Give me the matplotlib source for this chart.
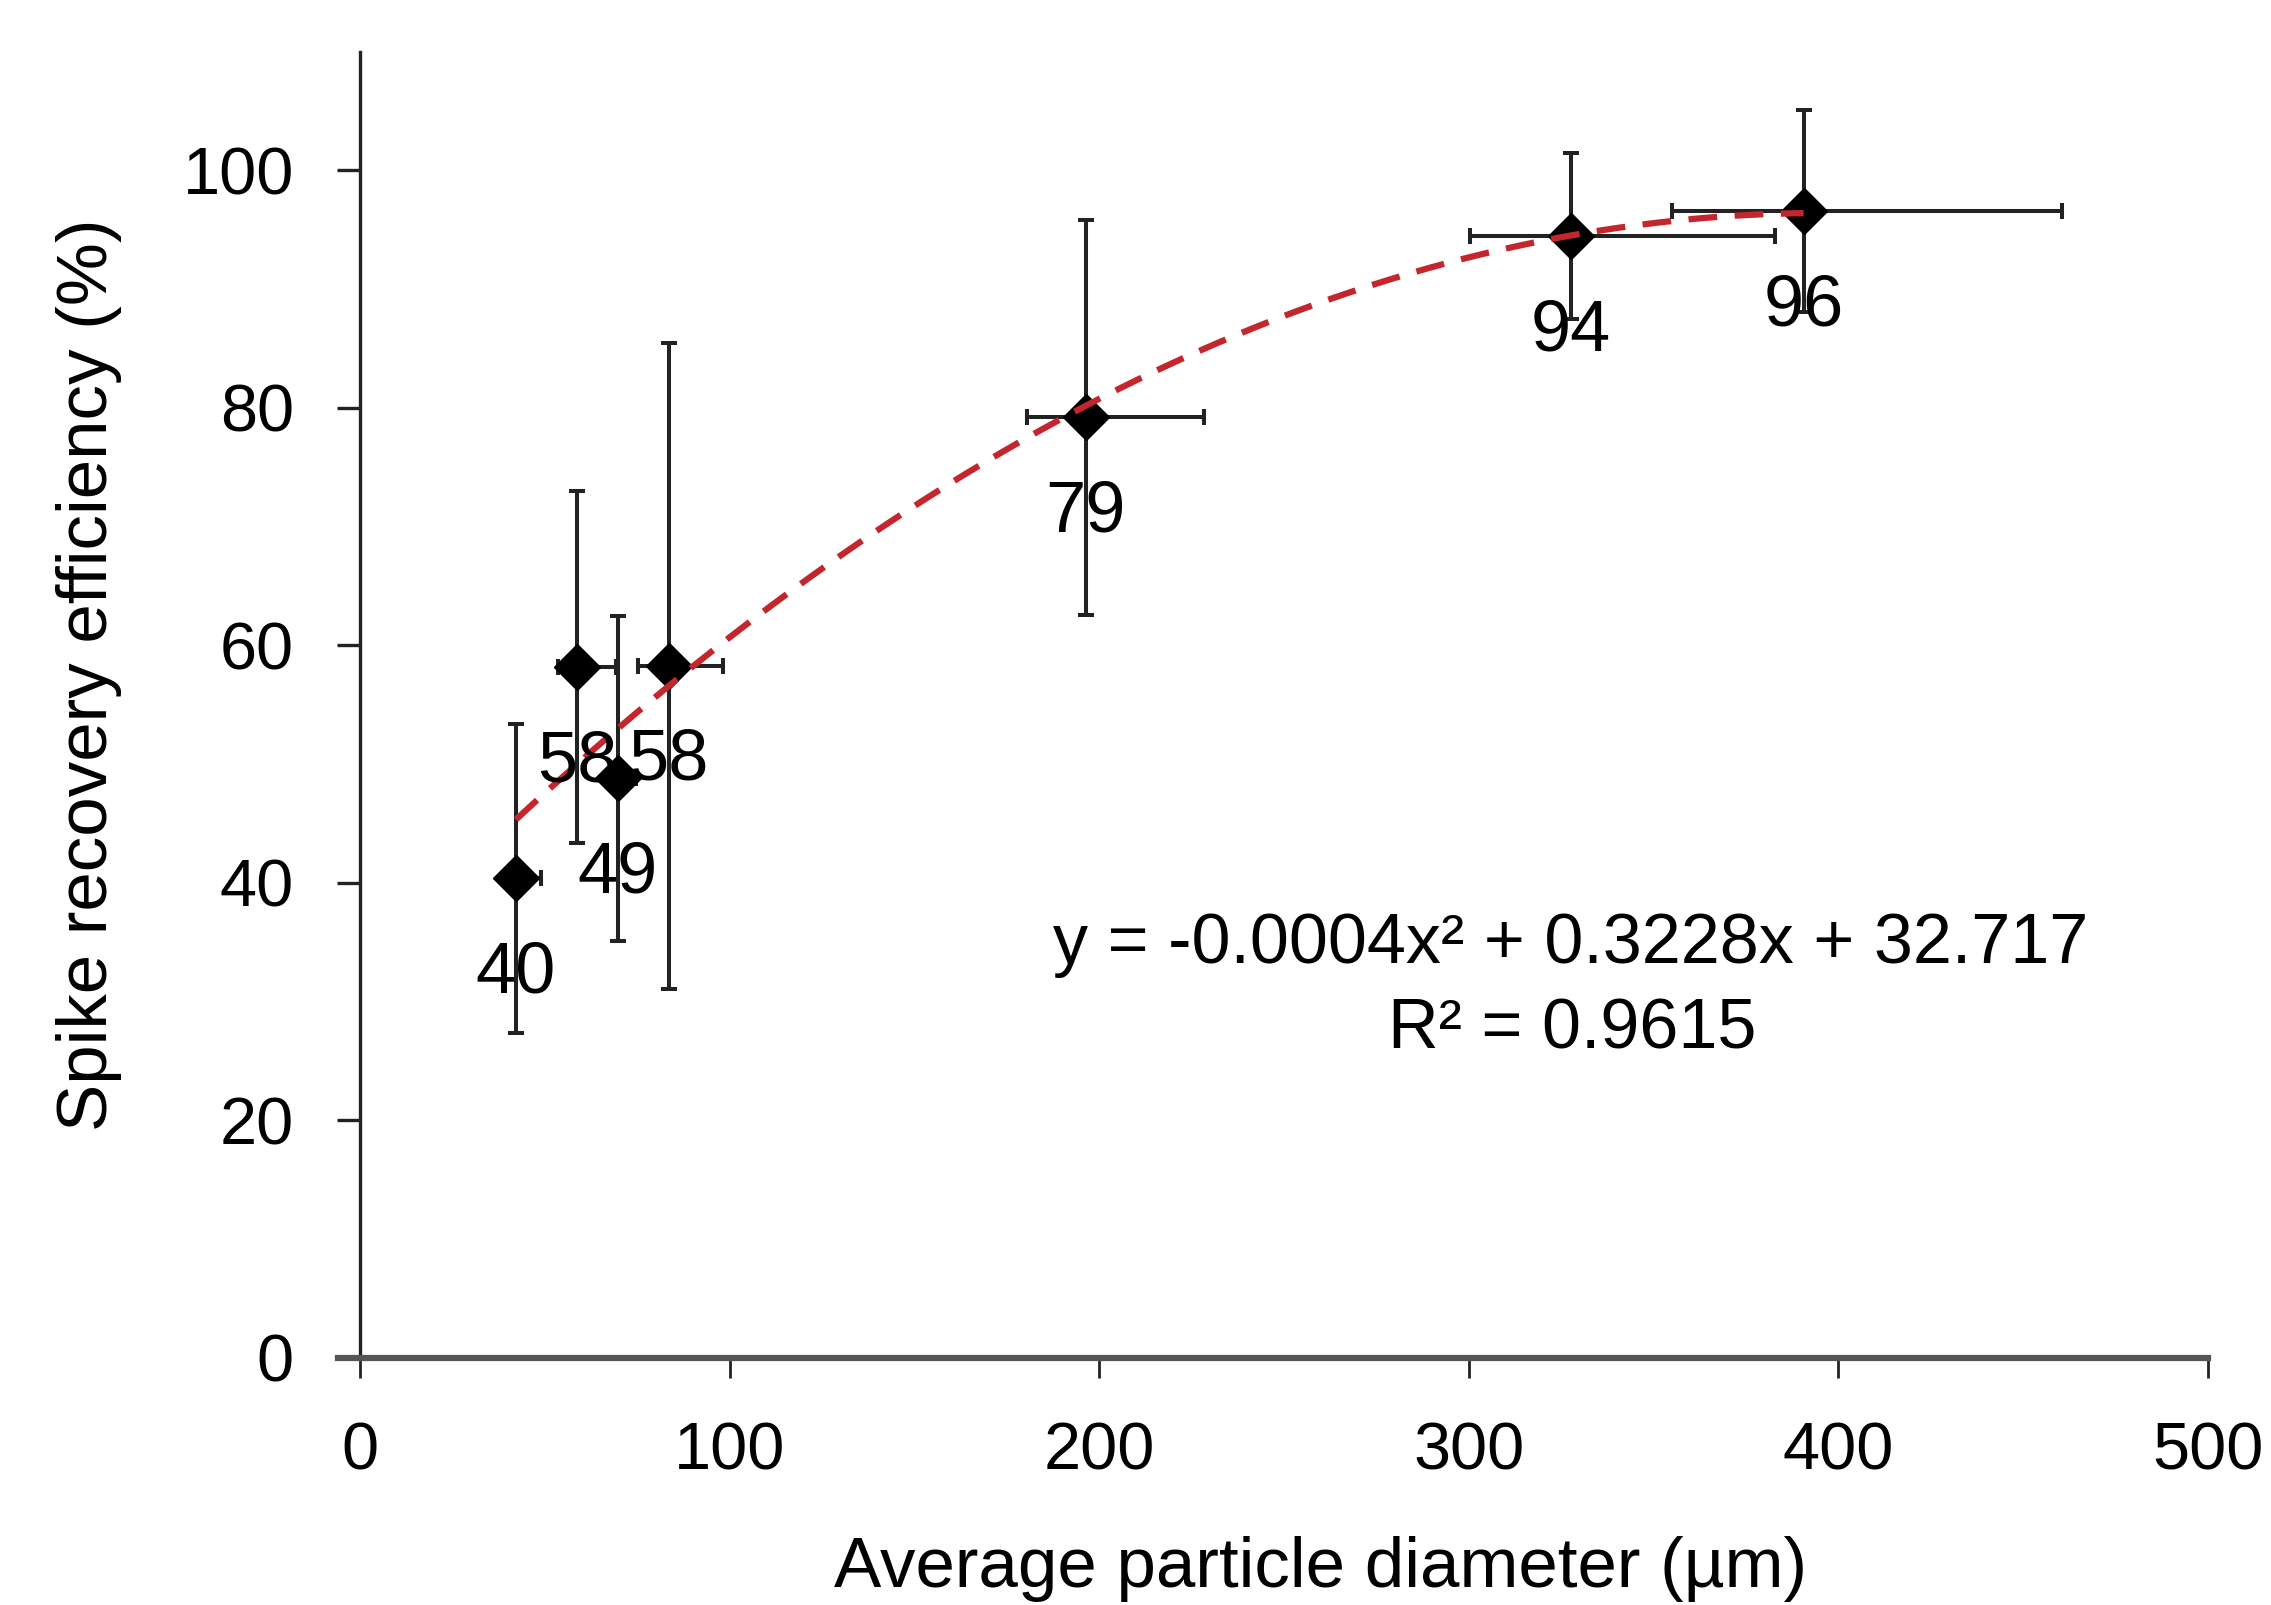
import numpy as np
import matplotlib
matplotlib.use('Agg')
import matplotlib.pyplot as plt

plt.rcParams['font.family'] = ['Liberation Sans', 'DejaVu Sans']

# values
diameter = [42.2, 58.7, 69.7, 83.5, 196.4, 327.7, 390.6]
recovery = [40.4, 58.2, 48.8, 58.3, 79.2, 94.5, 96.6]
recovery_err = [13.0, 14.8, 13.7, 27.2, 16.6, 7.0, 8.5]
diameter_err_low = [3.5, 5.0, 3.0, 8.4, 16.0, 27.4, 35.5]
diameter_err_high = [6.8, 10.5, 5.0, 14.8, 32.0, 55.3, 69.8]
point_labels = ['40', '58', '49', '58', '79', '94', '96']
eq_line1 = 'y = -0.0004x² + 0.3228x + 32.717'
eq_line2 = 'R² = 0.9615'
xticks = [0, 100, 200, 300, 400, 500]
yticks = [0, 20, 40, 60, 80, 100]

fig = plt.figure(figsize=(22.71, 16.05), dpi=100)
ax = fig.add_axes([0.1585, 0.1539, 0.8137, 0.8139])

# error bars
ax.errorbar(diameter, recovery, yerr=recovery_err,
            xerr=[diameter_err_low, diameter_err_high],
            fmt='none', ecolor='#222222', elinewidth=2.9, capsize=6,
            capthick=2.9, zorder=2)
ax.plot(diameter, recovery, linestyle='none', marker='D', markersize=23,
        color='black', markeredgecolor='black', zorder=3)

# polynomial trendline (2nd order, like the excel one)
coef = np.polyfit(diameter, recovery, 2)
xs = np.linspace(min(diameter), max(diameter), 200)
ax.plot(xs, np.polyval(coef, xs), color='#c4262e', linewidth=4.5,
        dashes=(4.6, 2.8), zorder=4)

for xv, yv, lab in zip(diameter, recovery, point_labels):
    ax.annotate(lab, (xv, yv), xytext=(0, -69), textcoords='offset points',
                ha='center', va='center', fontsize=52, zorder=5)

ax.text(327.5, 34.8, eq_line1, ha='center', va='center', fontsize=50.5)
ax.text(327.9, 27.6, eq_line2, ha='center', va='center', fontsize=50.5)

ax.set_xlim(0, 500)
ax.set_ylim(0, 110)
ax.set_xticks(xticks)
ax.set_yticks(yticks)

for s in ['top', 'right']:
    ax.spines[s].set_visible(False)
ax.spines['left'].set_linewidth(2.4)
ax.spines['left'].set_color('#222222')
ax.spines['bottom'].set_linewidth(4.5)
ax.spines['bottom'].set_color('#555555')
ax.spines['bottom'].set_bounds(-6, 500)

ax.tick_params(axis='x', direction='out', length=14.5, width=2, color='#222222',
               pad=31, labelsize=48)
ax.tick_params(axis='y', direction='out', length=16.5, width=2.4, color='#222222',
               pad=31, labelsize=48)

ax.set_xlabel('Average particle diameter (µm)', fontsize=51)
ax.set_ylabel('Spike recovery efficiency (%)', fontsize=51)
ax.xaxis.set_label_coords(0.52, -0.136)
ax.yaxis.set_label_coords(-0.129, 0.523)

fig.savefig('out.png', dpi=100)
